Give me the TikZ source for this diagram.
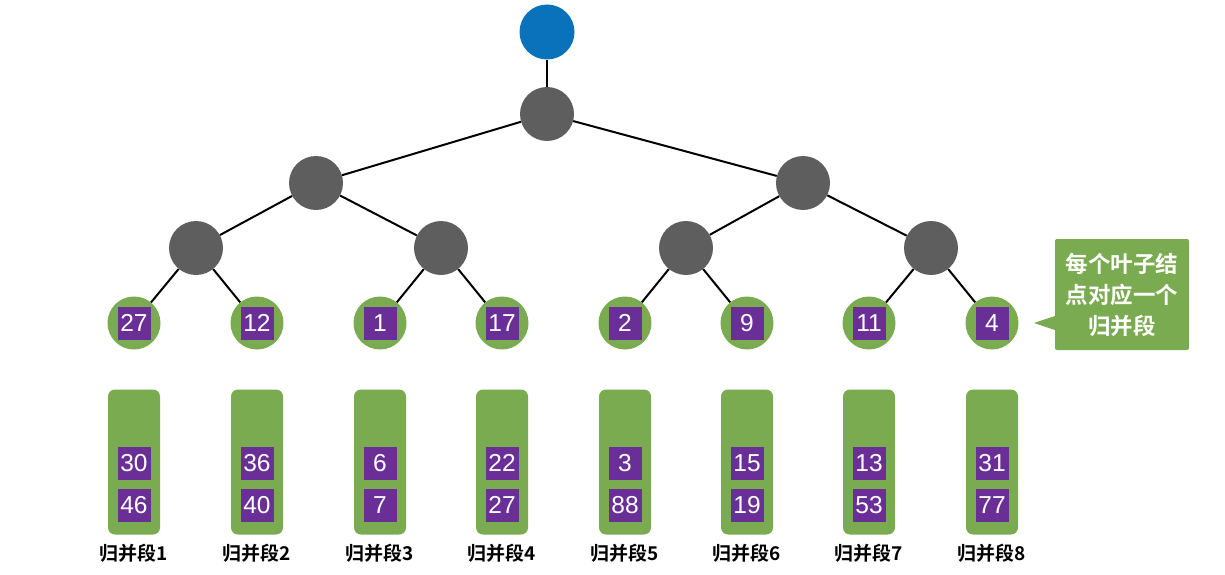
\documentclass[tikz,border=0pt]{standalone}
\usepackage{fontspec}
\setmainfont{Liberation Sans}
\newfontfamily\cjk{Noto Sans CJK SC}[BoldFont={Noto Sans CJK SC Bold}]
\definecolor{grn}{HTML}{7AAB50}
\definecolor{prp}{HTML}{6A2F97}
\definecolor{gry}{HTML}{5E5E5E}
\definecolor{blu}{HTML}{0A72BA}
\begin{document}
\begin{tikzpicture}[x=1pt,y=-1pt,
  inner/.style={circle,fill=gry,minimum size=54pt,inner sep=0pt},
  top/.style={circle,fill=blu,minimum size=55pt,inner sep=0pt},
  leaf/.style={circle,fill=grn,minimum size=53pt,inner sep=0pt},
  sq/.style={fill=prp,minimum size=33pt,inner sep=0pt,text=white,font=\fontsize{24.5}{24.5}\selectfont},
  run/.style={fill=grn,rounded corners=7pt,minimum width=52pt,minimum height=145pt,inner sep=0pt},
  lbl/.style={font=\cjk\bfseries\fontsize{19}{19}\selectfont},
  edge/.style={draw=black,line width=2pt}]
\useasboundingbox (0,0) rectangle (1225,575);
\node[top] (t) at (547,32) {};
\node[inner] (r) at (547,114) {};
\node[inner] (a) at (316,183) {};
\node[inner] (b) at (803,183) {};
\node[inner] (a1) at (196,248) {};
\node[inner] (a2) at (441,248) {};
\node[inner] (b1) at (686,248) {};
\node[inner] (b2) at (931,248) {};
\foreach \i/\x/\v/\p/\q in {1/134/27/30/46,2/257/12/36/40,3/380/1/6/7,4/502/17/22/27,5/625/2/3/88,6/747/9/15/19,7/869/11/13/53,8/992/4/31/77}{
  \node[leaf] (l\i) at (\x,323) {};
  \node[sq] (s\i) at (l\i) {\v};
  \node[run] (g\i) at (\x,462) {};
  \node[sq] (p\i) at (\x,463) {\p};
  \node[sq] (q\i) at (\x,505) {\q};
  \node[lbl] (n\i) at (\x,553) {归并段\i};
}
\draw[edge] (t) -- (r);
\draw[edge] (r) -- (a);
\draw[edge] (r) -- (b);
\draw[edge] (a) -- (a1);
\draw[edge] (a) -- (a2);
\draw[edge] (b) -- (b1);
\draw[edge] (b) -- (b2);
\draw[edge] (a1) -- (l1);
\draw[edge] (a1) -- (l2);
\draw[edge] (a2) -- (l3);
\draw[edge] (a2) -- (l4);
\draw[edge] (b1) -- (l5);
\draw[edge] (b1) -- (l6);
\draw[edge] (b2) -- (l7);
\draw[edge] (b2) -- (l8);
\node[fill=grn,rounded corners=2pt,minimum width=134pt,minimum height=111pt,inner sep=0pt] (c) at (1122,294.5) {};
\coordinate (tip) at (1034,323);
\fill[grn] (c.west |- 0,316) -- (tip) -- (c.west |- 0,330) -- cycle;
\node[text=white,align=center,font=\cjk\bfseries\fontsize{22.5}{31}\selectfont] (ct) at (c) {每个叶子结\\点对应一个\\归并段};
\end{tikzpicture}
\end{document}
